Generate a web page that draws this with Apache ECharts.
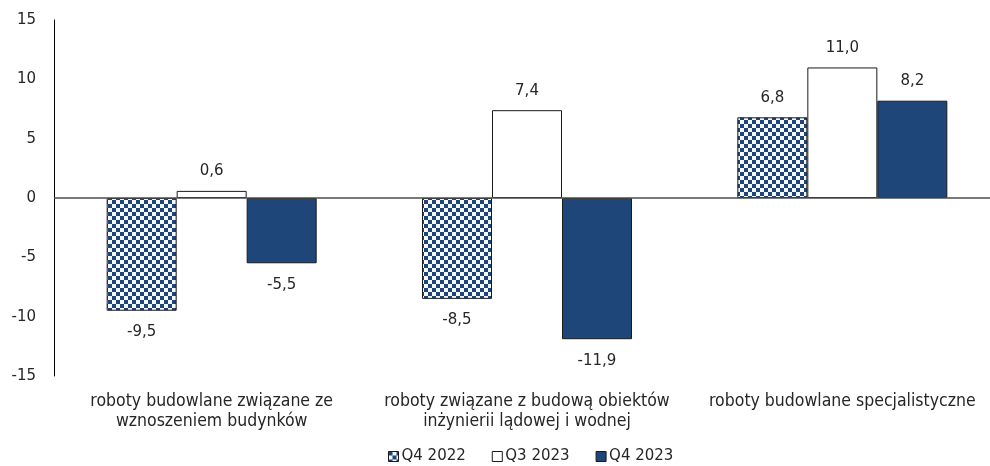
<!DOCTYPE html>
<html>
<head>
<meta charset="utf-8">
<script src="https://cdn.jsdelivr.net/npm/echarts@6/dist/echarts.min.js"></script>
<style>
  html, body { margin: 0; padding: 0; background: #ffffff; overflow: hidden; }
  #chart { width: 1000px; height: 466px; }
</style>
</head>
<body>
<div id="chart"></div>
<script>
// Categories (construction work types) and year-on-year dynamics
const categories = [
  'roboty budowlane związane ze\nwznoszeniem budynków',
  'roboty związane z budową obiektów\ninżynierii lądowej i wodnej',
  'roboty budowlane specjalistyczne'
];
const seriesNames = ['Q4 2022', 'Q3 2023', 'Q4 2023'];
const q4_2022 = [-9.5, -8.5, 6.8];
const q3_2023 = [0.6, 7.4, 11.0];
const q4_2023 = [-5.5, -11.9, 8.2];
const yTicks = [-15, -10, -5, 0, 5, 10, 15];

const NAVY = '#1f4679';
const TEXT = '#262626';
const FONT = '"DejaVu Sans", Verdana, sans-serif';

// Checkerboard fill for the first series
function checker() {
  const c = document.createElement('canvas');
  c.width = 8; c.height = 8;
  const g = c.getContext('2d');
  g.fillStyle = '#f4f8ff';
  g.fillRect(0, 0, 8, 8);
  g.fillStyle = '#1f4478';
  g.fillRect(0, 0, 4, 4);
  g.fillRect(4, 4, 4, 4);
  return { image: c, repeat: 'repeat' };
}

const fmt = v => v.toFixed(1).replace('.', ',');

function items(values) {
  return values.map(v => ({
    value: v,
    label: { position: v < 0 ? 'bottom' : 'top', distance: v < 0 ? 14 : 12 }
  }));
}

function barSeries(name, values, fill, border) {
  return {
    name: name,
    type: 'bar',
    barWidth: 70,
    barGap: '0%',
    data: items(values),
    itemStyle: { color: fill, borderColor: border, borderWidth: 1 },
    label: {
      show: true,
      color: TEXT,
      fontFamily: FONT,
      fontSize: 15,
      formatter: p => fmt(p.value)
    }
  };
}

const series = [
  barSeries(seriesNames[0], q4_2022, checker(), '#1a1a1a'),
  barSeries(seriesNames[1], q3_2023, '#ffffff', '#1a1a1a'),
  barSeries(seriesNames[2], q4_2023, NAVY, '#1a1a1a')
];
// horizontal zero line across the plot
series[2].markLine = {
  silent: true,
  symbol: 'none',
  label: { show: false },
  lineStyle: { color: '#4d4d4d', width: 1.5, type: 'solid' },
  data: [{ yAxis: 0 }]
};

const chart = echarts.init(document.getElementById('chart'), null, { renderer: 'canvas' });
chart.setOption({
  animation: false,
  backgroundColor: '#ffffff',
  grid: { left: 54, right: 0, top: 20, height: 356 },
  legend: {
    top: 444,
    left: 383,
    itemWidth: 10,
    itemHeight: 10,
    itemGap: 26,
    textStyle: { color: TEXT, fontFamily: FONT, fontSize: 15, padding: [0, 0, 0, -2] },
    data: seriesNames.map(n => ({ name: n, icon: 'rect', itemStyle: { borderColor: '#1a1a1a', borderWidth: 1 } }))
  },
  xAxis: {
    type: 'category',
    data: categories,
    axisLine: { show: false, onZero: false },
    axisTick: { show: false },
    axisLabel: {
      color: TEXT,
      fontFamily: '"DejaVu Sans Condensed", "DejaVu Sans", sans-serif',
      fontSize: 17.5,
      lineHeight: 20,
      margin: 15,
      interval: 0
    }
  },
  yAxis: {
    type: 'value',
    min: yTicks[0],
    max: yTicks[yTicks.length - 1],
    interval: 5,
    axisLine: { show: true, lineStyle: { color: '#000000', width: 1 } },
    axisTick: { show: false },
    splitLine: { show: false },
    axisLabel: { color: TEXT, fontFamily: FONT, fontSize: 15, margin: 18 }
  },
  series: series
});
</script>
</body>
</html>
